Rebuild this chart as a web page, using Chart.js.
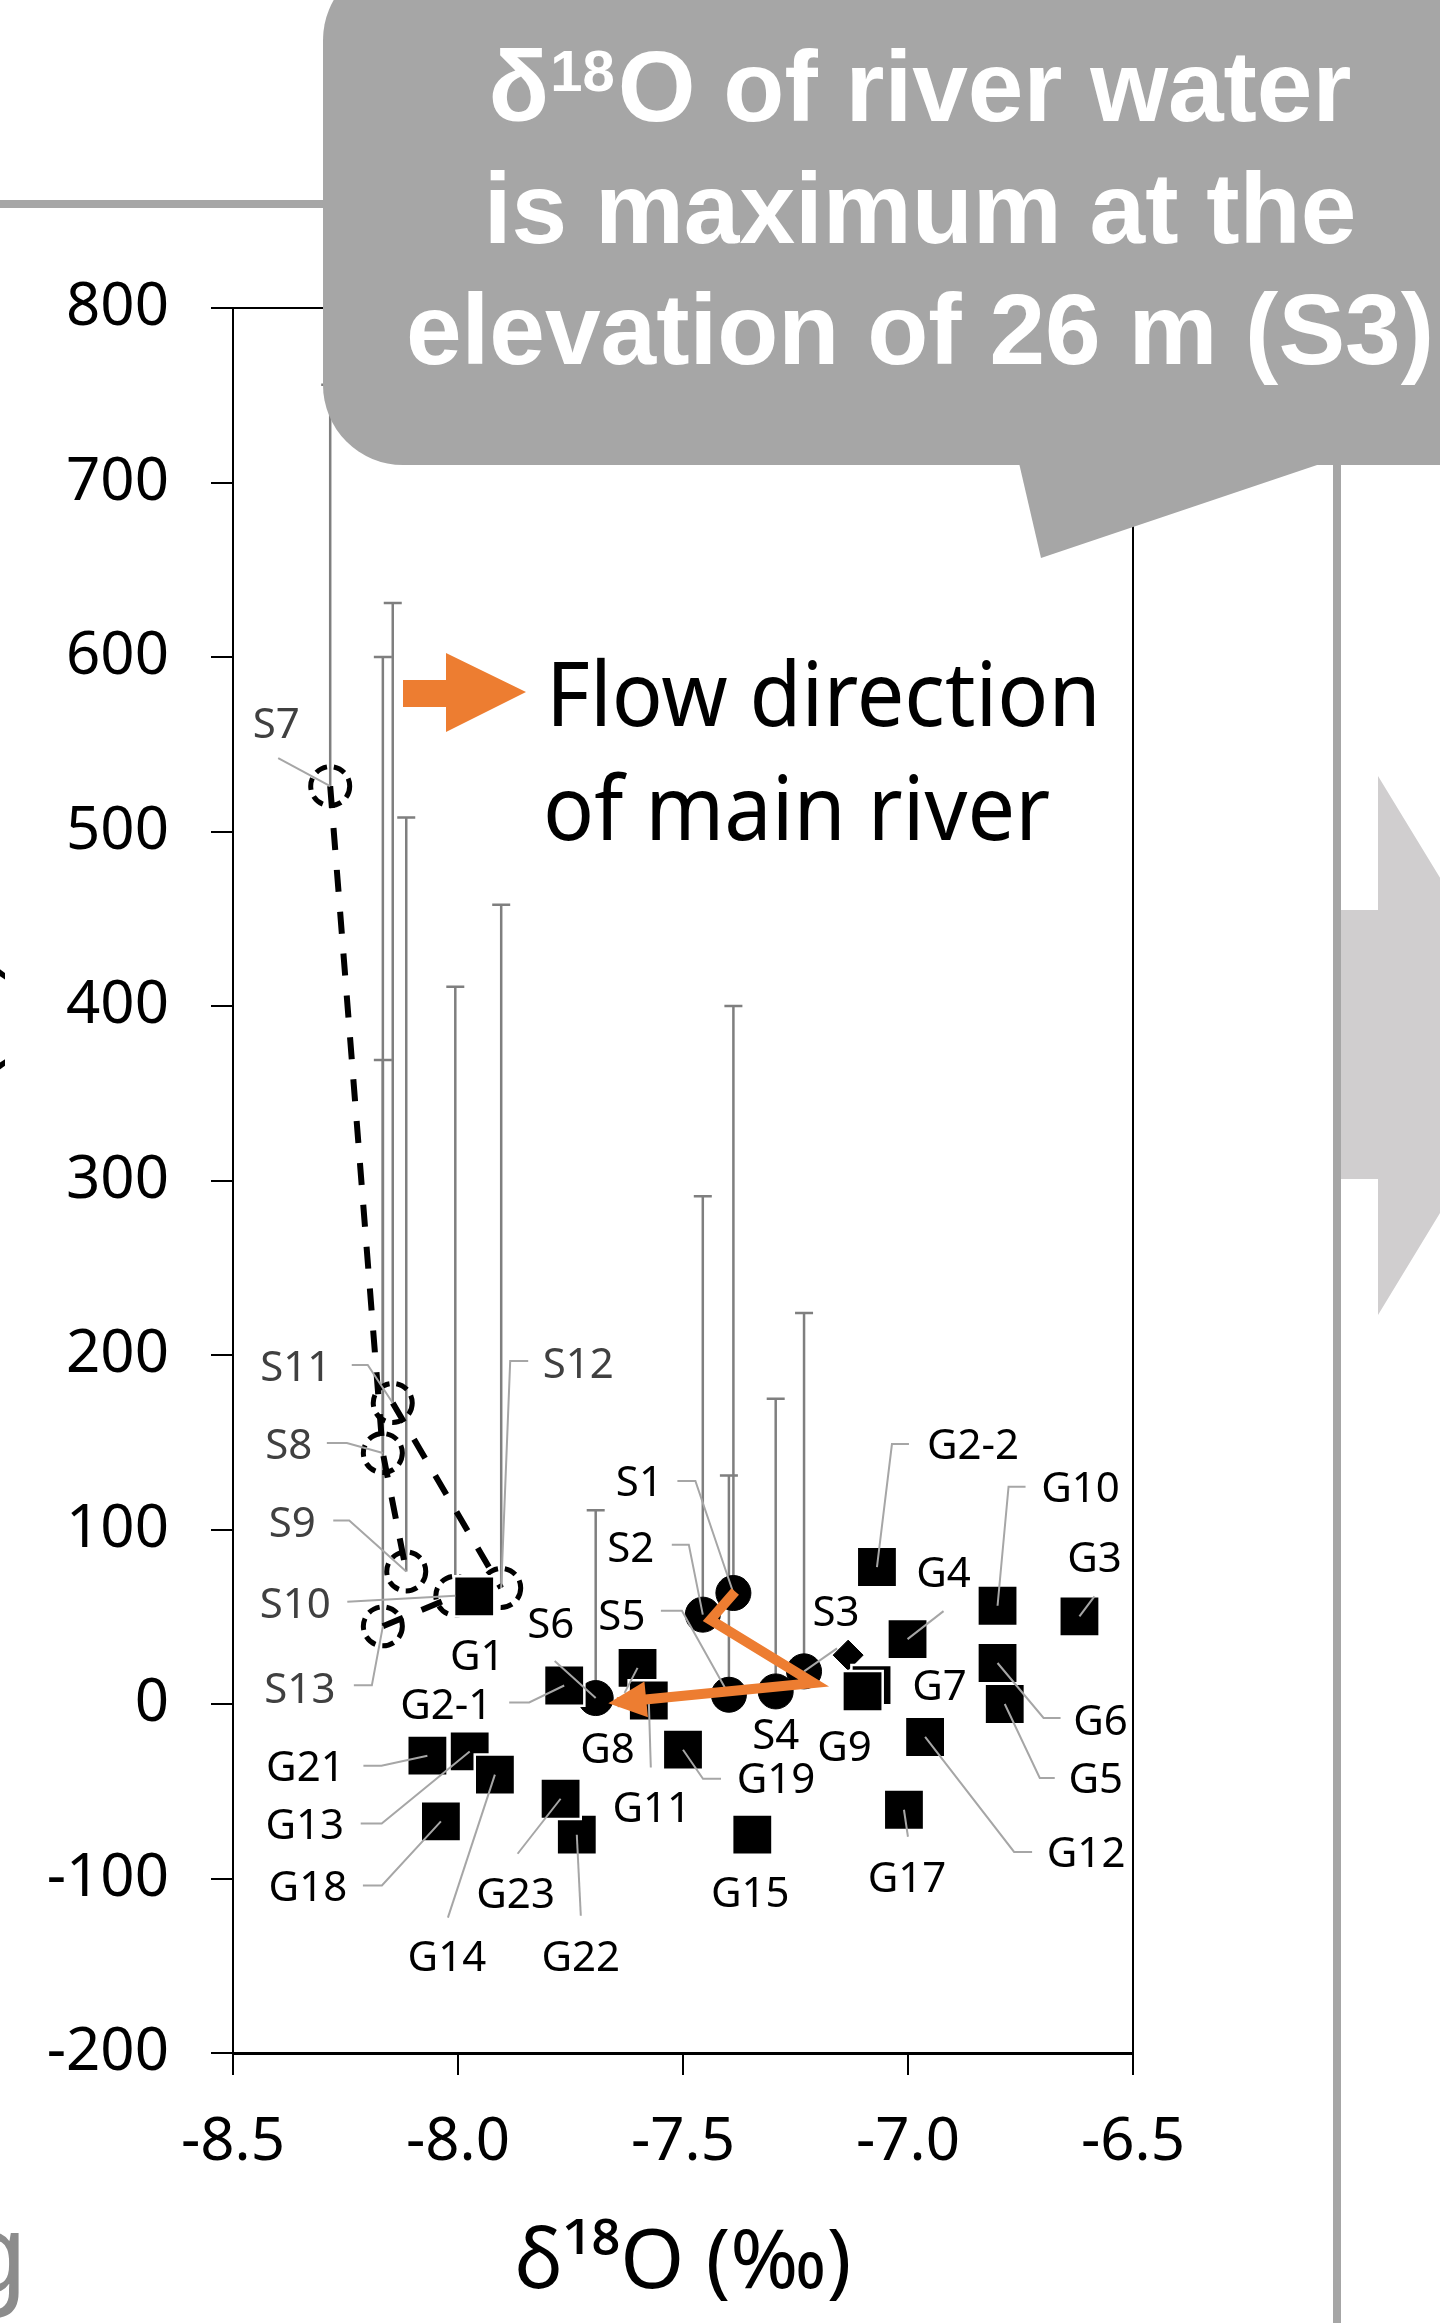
<!DOCTYPE html>
<html>
<head>
<meta charset="utf-8">
<script src="https://cdn.jsdelivr.net/npm/chart.js@4.4.1/dist/chart.umd.min.js"></script>
<style>
  html, body { margin: 0; padding: 0; background: #fff; }
  canvas { display: block; }
</style>
</head>
<body>
<canvas id="myChart" width="1440" height="2323"></canvas>
<script>
// river water (S) - d18O in permil, elevation in m, top of the elevation range bar
const riverNames   = ['S1', 'S2', 'S3', 'S4', 'S5', 'S6', 'S7', 'S8', 'S9', 'S10', 'S11', 'S12', 'S13'];
const riverD18O    = [-7.388, -7.456, -7.231, -7.294, -7.398, -7.694, -8.284, -8.167, -8.115, -8.006, -8.145, -7.904, -8.167];
const riverElev    = [63.6, 51.2, 18.7, 7.2, 5.3, 3.4, 526, 143.8, 76, 62, 172.5, 66.5, 44.5];
const riverElevTop = [400, 291, 224, 175, 131, 111, 756, 600, 508, 411, 631, 458, 369];
const mainRiver    = ['S1', 'S2', 'S3', 'S4', 'S5', 'S6'];

// tributaries drawn as dashed paths
const tributaries = [['S7', 'S8', 'S9'], ['S11', 'S12'], ['S13', 'S10']];

// groundwater (G)
const wellNames = ['G1', 'G2-1', 'G2-2', 'G3', 'G4', 'G5', 'G6', 'G7', 'G9', 'G8', 'G10', 'G11',
                   'G12', 'G13', 'G14', 'G15', 'G17', 'G18', 'G19', 'G21', 'G22', 'G23'];
const wellD18O  = [-7.964, -7.764, -7.069, -6.619, -7.001, -6.785, -6.801, -7.081, -7.101, -7.601, -6.801, -7.576,
                   -6.962, -7.974, -7.918, -7.346, -7.009, -8.038, -7.500, -8.068, -7.736, -7.772];
const wellElev  = [61.7, 10.6, 78.5, 50.2, 37.2, 0, 23.5, 10.8, 7.3, 20.7, 56.3, 2,
                   -18.9, -27.2, -40.5, -74.9, -60.6, -67.3, -26.2, -29.6, -74.9, -54.3];

// unlabelled sample (diamond)
const otherD18O = [-7.133];
const otherElev = [28];

// orange "flow direction" arrow, in data units
const flowD18O = [-7.384, -7.439, -7.2095, -7.646];
const flowElev = [64.5, 48.3, 12, 1.0];

const xTicks = [-8.5, -8.0, -7.5, -7.0, -6.5];

// label offsets from the marker (px) and leader elbows
const labelSpots = {
    'S1':  { dx: -94, dy: -112, leader: [[-56, -112], [-38, -112]] },
    'S2':  { dx: -72, dy: -68, leader: [[-31, -70], [-14, -70]] },
    'S3':  { dx: 32, dy: -60, leader: [[33, -23]] },
    'S4':  { dx: 0, dy: 43 },
    'S5':  { dx: -107, dy: -80, leader: [[-68, -84], [-47, -84]] },
    'S6':  { dx: -45, dy: -75, leader: [[-41, -37]] },
    'S7':  { dx: -54, dy: -63, leader: [[-52, -28]] },
    'S8':  { dx: -94, dy: -9, leader: [[-56, -10], [-36, -10]] },
    'S9':  { dx: -114, dy: -49, leader: [[-73, -51], [-57, -51]] },
    'S10': { dx: -160, dy: 7, leader: [[-108, 6]] },
    'S11': { dx: -97, dy: -37, leader: [[-41, -38], [-25, -38]] },
    'S12': { dx: 77, dy: -225, leader: [[27, -227], [9, -227]] },
    'S13': { dx: -83, dy: 62, leader: [[-29, 59], [-11, 59]] },
    'G1':  { dx: 3, dy: 59 },
    'G2-1': { dx: -118, dy: 18, leader: [[-55, 17], [-35, 17]] },
    'G2-2': { dx: 96, dy: -123, leader: [[32, -123], [15, -123]] },
    'G3':  { dx: 15, dy: -59, leader: [[15, -20]] },
    'G4':  { dx: 36, dy: -67, leader: [[36, -28]] },
    'G5':  { dx: 91, dy: 74, leader: [[50, 74], [35, 74]] },
    'G6':  { dx: 103, dy: 57, leader: [[63, 55], [46, 55]] },
    'G7':  { dx: 68, dy: 0 },
    'G8':  { dx: -30, dy: 80, leader: [[-13, 25]] },
    'G9':  { dx: -18, dy: 55 },
    'G10': { dx: 83, dy: -119, leader: [[28, -119], [11, -119]] },
    'G11': { dx: 3, dy: 106, leader: [[2, 67]] },
    'G12': { dx: 161, dy: 115, leader: [[107, 115], [89, 115]] },
    'G13': { dx: -165, dy: 73, leader: [[-109, 72], [-88, 72]] },
    'G14': { dx: -48, dy: 181, leader: [[-47, 143]] },
    'G15': { dx: -2, dy: 57 },
    'G17': { dx: 3, dy: 67, leader: [[4, 27]] },
    'G18': { dx: -133, dy: 65, leader: [[-78, 64], [-59, 64]] },
    'G19': { dx: 93, dy: 28, leader: [[38, 29], [20, 29]] },
    'G21': { dx: -122, dy: 10, leader: [[-64, 10], [-46, 10]] },
    'G22': { dx: 4, dy: 121, leader: [[4, 81]] },
    'G23': { dx: -45, dy: 94, leader: [[-43, 55]] }
};

const FONT = '"Noto Sans", "Open Sans", sans-serif';
const BOLD = '"Liberation Sans", Arial, sans-serif';

function riverPoint(name) {
    const i = riverNames.indexOf(name);
    return { x: riverD18O[i], y: riverElev[i] };
}

function pts(xs, ys) {
    return xs.map(function(v, i) { return { x: v, y: ys[i] }; });
}

const tributaryNames = riverNames.filter(n => mainRiver.indexOf(n) < 0);

const datasets = [];

tributaries.forEach(function(path) {
    datasets.push({
        label: 'trib',
        showLine: true,
        data: path.map(riverPoint),
        borderColor: '#000',
        borderWidth: 6,
        borderDash: [22, 20],
        pointRadius: 0,
        order: 6
    });
});

datasets.push({
    label: 'tributary sites',
    data: tributaryNames.map(riverPoint),
    names: tributaryNames,
    pointRadius: 19.5,
    pointBorderWidth: 5,
    pointBackgroundColor: 'rgba(0,0,0,0)',
    pointBorderColor: '#000',
    pointDash: [12, 7],
    order: 5
});

datasets.push({
    label: 'main river',
    data: mainRiver.map(riverPoint),
    names: mainRiver,
    pointRadius: 17.5,
    pointBorderWidth: 1,
    pointBackgroundColor: '#000',
    pointBorderColor: '#000',
    order: 4
});

datasets.push({
    label: 'other',
    data: pts(otherD18O, otherElev),
    pointStyle: 'rectRot',
    pointRadius: 15,
    pointBorderWidth: 1,
    pointBackgroundColor: '#000',
    pointBorderColor: '#000',
    order: 3.5
});

datasets.push({
    label: 'groundwater',
    data: pts(wellD18O, wellElev),
    names: wellNames,
    pointStyle: 'rect',
    pointRadius: 28.5,
    pointBorderWidth: 2.5,
    pointBackgroundColor: '#000',
    pointBorderColor: '#fff',
    order: 3
});

datasets.push({
    label: 'flow',
    isFlow: true,
    showLine: true,
    data: pts(flowD18O, flowElev),
    borderColor: '#ed7d31',
    borderWidth: 10,
    borderJoinStyle: 'miter',
    borderCapStyle: 'butt',
    pointRadius: 0,
    order: 1
});

function drawLeaders(chart) {
    const ctx = chart.ctx;
    ctx.save();
    ctx.strokeStyle = '#a6a6a6';
    ctx.lineWidth = 2;
    chart.data.datasets.forEach(function(ds, di) {
        if (!ds.names) return;
        const meta = chart.getDatasetMeta(di);
        meta.data.forEach(function(el, i) {
            const spot = labelSpots[ds.names[i]];
            if (!spot || !spot.leader) return;
            ctx.beginPath();
            spot.leader.forEach(function(p, k) {
                if (k === 0) ctx.moveTo(el.x + p[0], el.y + p[1]);
                else ctx.lineTo(el.x + p[0], el.y + p[1]);
            });
            ctx.lineTo(el.x, el.y);
            ctx.stroke();
        });
    });
    ctx.restore();
}

const chartExtras = {
    id: 'chartExtras',
    beforeDatasetsDraw(chart) {
        const ctx = chart.ctx;
        const a = chart.chartArea;
        const xs = chart.scales.x, ys = chart.scales.y;
        ctx.save();
        // plot frame (top and right)
        ctx.strokeStyle = '#000';
        ctx.lineWidth = 2;
        ctx.beginPath();
        ctx.moveTo(a.left, a.top);
        ctx.lineTo(a.right, a.top);
        ctx.lineTo(a.right, a.bottom);
        ctx.stroke();
        // elevation range bars
        ctx.strokeStyle = '#7f7f7f';
        ctx.lineWidth = 2.5;
        riverNames.forEach(function(n, i) {
            const x = xs.getPixelForValue(riverD18O[i]);
            const y0 = ys.getPixelForValue(riverElev[i]);
            const y1 = ys.getPixelForValue(riverElevTop[i]);
            ctx.beginPath();
            ctx.moveTo(x, y0);
            ctx.lineTo(x, y1);
            ctx.moveTo(x - 9, y1);
            ctx.lineTo(x + 9, y1);
            ctx.stroke();
        });
        ctx.restore();
    },
    beforeDatasetDraw(chart, args) {
        const ds = chart.data.datasets[args.index];
        if (ds.pointDash) {
            chart.ctx.save();
            chart.ctx.setLineDash(ds.pointDash);
        }
        if (ds.isFlow) drawLeaders(chart);
    },
    afterDatasetDraw(chart, args) {
        const ds = chart.data.datasets[args.index];
        if (ds.pointDash) chart.ctx.restore();
        if (ds.isFlow) {
            const d = args.meta.data;
            const p1 = d[d.length - 2], p2 = d[d.length - 1];
            const len = Math.hypot(p2.x - p1.x, p2.y - p1.y);
            const ux = (p2.x - p1.x) / len, uy = (p2.y - p1.y) / len;
            const tx = p2.x + ux * 9, ty = p2.y + uy * 9;
            const bx = tx - ux * 38, by = ty - uy * 38;
            const ctx = chart.ctx;
            ctx.save();
            ctx.fillStyle = '#ed7d31';
            ctx.beginPath();
            ctx.moveTo(tx, ty);
            ctx.lineTo(bx - uy * 18, by + ux * 18);
            ctx.lineTo(bx + uy * 18, by - ux * 18);
            ctx.closePath();
            ctx.fill();
            ctx.restore();
        }
    },
    afterDatasetsDraw(chart) {
        const ctx = chart.ctx;
        ctx.save();
        ctx.font = '42px ' + FONT;
        ctx.textAlign = 'center';
        ctx.textBaseline = 'alphabetic';
        chart.data.datasets.forEach(function(ds, di) {
            if (!ds.names) return;
            const meta = chart.getDatasetMeta(di);
            meta.data.forEach(function(el, i) {
                const name = ds.names[i];
                const spot = labelSpots[name];
                if (!spot) return;
                const gray = name[0] === 'S' && mainRiver.indexOf(name) < 0;
                ctx.fillStyle = gray ? '#404040' : '#000';
                ctx.fillText(name, el.x + spot.dx, el.y + spot.dy + 15);
            });
        });

        // legend note for the orange arrow
        ctx.fillStyle = '#ed7d31';
        ctx.beginPath();
        ctx.moveTo(403, 680);
        ctx.lineTo(446, 680);
        ctx.lineTo(446, 653);
        ctx.lineTo(526, 692);
        ctx.lineTo(446, 732);
        ctx.lineTo(446, 707);
        ctx.lineTo(403, 707);
        ctx.closePath();
        ctx.fill();
        ctx.fillStyle = '#000';
        ctx.textAlign = 'left';
        ctx.font = '89px ' + FONT;
        ctx.save();
        ctx.translate(546, 726);
        ctx.scale(0.95, 1);
        ctx.fillText('Flow direction', 0, 0);
        ctx.restore();
        ctx.save();
        ctx.translate(543, 840);
        ctx.scale(0.95, 1);
        ctx.fillText('of main river', 0, 0);
        ctx.restore();
        ctx.restore();
    },
    afterDraw(chart) {
        const ctx = chart.ctx;
        ctx.save();
        // surrounding slide pieces
        ctx.fillStyle = '#a6a6a6';
        ctx.fillRect(0, 200, 340, 8);
        ctx.fillRect(1333, 200, 8, 2200);
        ctx.fillStyle = '#d0cecf';
        ctx.beginPath();
        ctx.moveTo(1341, 910);
        ctx.lineTo(1378, 910);
        ctx.lineTo(1378, 776);
        ctx.lineTo(1542, 1045);
        ctx.lineTo(1378, 1315);
        ctx.lineTo(1378, 1179);
        ctx.lineTo(1341, 1179);
        ctx.closePath();
        ctx.fill();

        // callout
        ctx.fillStyle = '#a6a6a6';
        ctx.beginPath();
        ctx.roundRect(323, -40, 1240, 505, 80);
        ctx.fill();
        ctx.beginPath();
        ctx.moveTo(1019, 463);
        ctx.lineTo(1041, 558);
        ctx.lineTo(1323, 463);
        ctx.closePath();
        ctx.fill();

        ctx.fillStyle = '#fff';
        ctx.textBaseline = 'alphabetic';
        ctx.textAlign = 'left';
        const big = 'bold 100px ' + BOLD, sup = 'bold 58px ' + BOLD;
        ctx.font = big;
        const wa = ctx.measureText('δ').width;
        const wc = ctx.measureText('O of river water').width;
        ctx.font = sup;
        const wb = ctx.measureText('18').width + 4;
        let x0 = 920 - (wa + wb + wc) / 2;
        ctx.font = big;
        ctx.fillText('δ', x0, 121);
        ctx.font = sup;
        ctx.fillText('18', x0 + wa + 1, 91);
        ctx.font = big;
        ctx.fillText('O of river water', x0 + wa + wb, 121);
        ctx.textAlign = 'center';
        ctx.fillText('is maximum at the', 920, 243);
        ctx.fillText('elevation of 26 m (S3)', 920, 364);

        // cut-off text at the page edges
        ctx.fillStyle = '#8c8c8c';
        ctx.font = '110px ' + FONT;
        ctx.textAlign = 'right';
        ctx.fillText('g', 28, 2292);
        ctx.fillStyle = '#000';
        ctx.font = '80px ' + FONT;
        ctx.translate(-8, 958);
        ctx.rotate(-Math.PI / 2);
        ctx.textAlign = 'right';
        ctx.fillText('Elevation (m)', 0, 0);
        ctx.restore();
    }
};

const myChart = new Chart(
    document.getElementById('myChart'), {
        type: 'scatter',
        data: { datasets: datasets },
        options: {
            responsive: false,
            animation: false,
            devicePixelRatio: 1,
            layout: { padding: { left: 0, right: 307, top: 308, bottom: 0 } },
            plugins: {
                legend: { display: false },
                tooltip: { enabled: false }
            },
            scales: {
                x: {
                    type: 'linear',
                    min: -8.5,
                    max: -6.5,
                    afterBuildTicks: function(scale) {
                        scale.ticks = xTicks.map(v => ({ value: v }));
                    },
                    afterFit: function(scale) { scale.height = 270; },
                    ticks: {
                        callback: v => v.toFixed(1),
                        font: { family: FONT, size: 60 },
                        color: '#000',
                        padding: 32,
                        maxRotation: 0,
                        autoSkip: false
                    },
                    grid: { drawOnChartArea: false, drawTicks: true, tickLength: 22, color: '#000', lineWidth: 2 },
                    border: { display: true, color: '#000', width: 3 },
                    title: {
                        display: true,
                        text: 'δ¹⁸O (‰)',
                        font: { family: FONT, size: 82 },
                        color: '#000',
                        padding: { top: 0, bottom: 9 }
                    }
                },
                y: {
                    type: 'linear',
                    min: -200,
                    max: 800,
                    afterFit: function(scale) { scale.width = 233; },
                    ticks: {
                        stepSize: 100,
                        callback: v => String(v),
                        font: { family: FONT, size: 60 },
                        color: '#000',
                        padding: 42
                    },
                    grid: { drawOnChartArea: false, drawTicks: true, tickLength: 22, color: '#000', lineWidth: 2 },
                    border: { display: true, color: '#000', width: 2 }
                }
            }
        },
        plugins: [chartExtras]
    }
);
</script>
</body>
</html>
